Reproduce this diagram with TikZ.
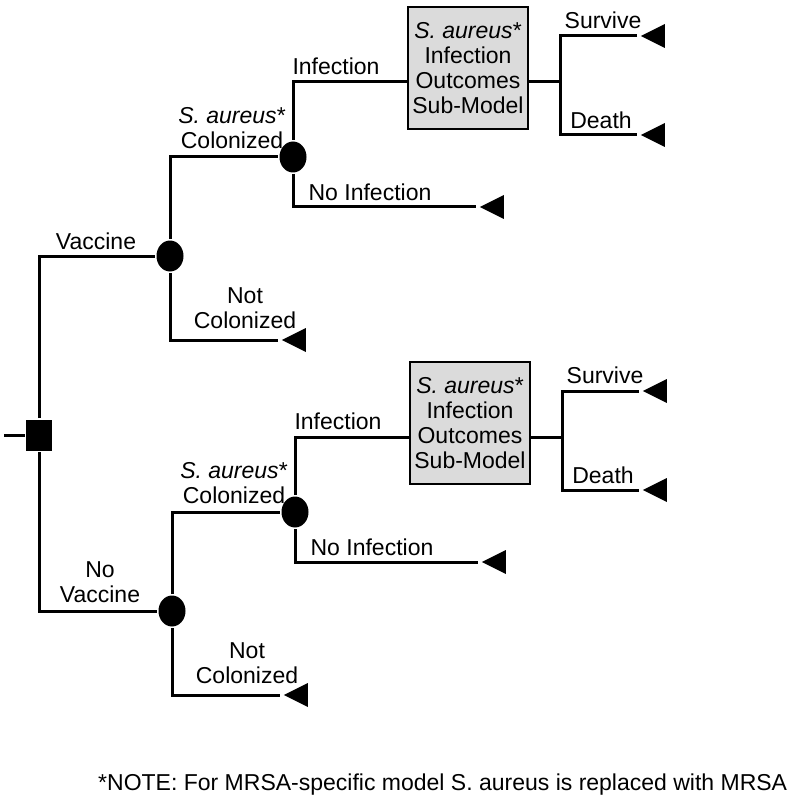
\documentclass[tikz,border=0pt]{standalone}
\usepackage{fontspec}
\setmainfont{Liberation Sans}
\usetikzlibrary{shapes.geometric}

\begin{document}
\begin{tikzpicture}[x=1pt, y=-1pt, line width=3pt, font=\fontsize{23}{25}\selectfont,
  decision/.style={fill=black, minimum width=26pt, minimum height=31pt, inner sep=0},
  chance/.style={ellipse, fill=black, minimum width=27pt, minimum height=31pt, inner sep=0},
  terminal/.style={isosceles triangle, isosceles triangle stretches, shape border rotate=180, fill=black, minimum width=24pt, minimum height=24pt, inner sep=0, anchor=apex},
  submodel/.style={draw, fill=black!14, line width=2.5pt, align=center, minimum width=120pt, minimum height=122pt, inner sep=0},
  lab/.style={align=center}]

\useasboundingbox (0,0) rectangle (800,810);

\node[decision] (dec) at (39,435) {};
\coordinate (root) at (4,435);
\draw (root) -- (dec);

\foreach \n/\o/\dx/\cx/\cy/\choice in {1/0/0/96/241/Vaccine, 2/355/2/100/582/{No\\Vaccine}}{
\node[chance] (col\n) at (170+\dx,256+\o) {};
\node[chance] (inf\n) at (293+\dx,157+\o) {};
\node[submodel] (sub\n) at (468+\dx,68+\o) {\textit{S. aureus}*\\Infection\\Outcomes\\Sub-Model};
\coordinate (in\n) at (sub\n.west |- 0,82+\o);
\coordinate (out\n) at (sub\n.east |- 0,82+\o);
\coordinate (split\n) at (560+\dx,82+\o);
\node[terminal] (live\n) at (637+\dx,36+\o) {};
\node[terminal] (death\n) at (637+\dx,135+\o) {};
\node[terminal] (noinf\n) at (476+\dx,207+\o) {};
\node[terminal] (notcol\n) at (278+\dx,340+\o) {};

\draw (dec) |- (col\n);
\draw (col\n) |- (inf\n);
\draw (col\n) |- (notcol\n);
\draw (inf\n) |- (in\n);
\draw (inf\n) |- (noinf\n);
\draw (out\n) -- (split\n);
\draw (live\n) -| (split\n) |- (death\n);

\node[lab] (lchoice\n) at (\cx,\cy) {\choice};
\node[lab] (lcol\n) at (232+\dx,128+\o) {\textit{S. aureus}*\\Colonized};
\node[lab] (lnot\n) at (245+\dx,308+\o) {Not\\Colonized};
\node[lab] (linf\n) at (336+\dx,66+\o) {Infection};
\node[lab] (lno\n) at (370+\dx,192+\o) {No Infection};
\node[lab] (llive\n) at (603+\dx,20+\o) {Survive};
\node[lab] (ldeath\n) at (601+\dx,120+\o) {Death};
}

\node[lab, anchor=east] (note) at (792,785) {*NOTE: For MRSA-specific model S. aureus is replaced with MRSA};

\end{tikzpicture}
\end{document}
